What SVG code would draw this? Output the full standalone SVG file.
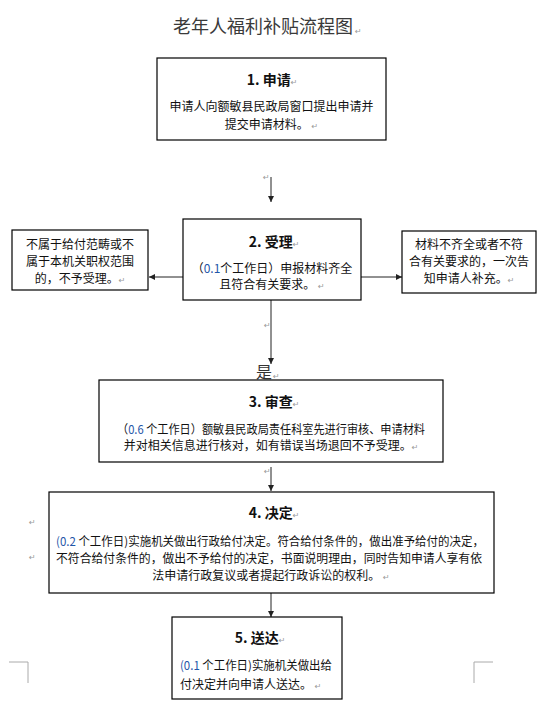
<svg xmlns="http://www.w3.org/2000/svg" width="551" height="708" viewBox="0 0 551 708">
<defs>
<marker id="ah" viewBox="0 0 6 6" refX="6" refY="3" markerWidth="6" markerHeight="6" markerUnits="userSpaceOnUse" orient="auto">
<path d="M0,0 L6,3 L0,6 Z" fill="#222"/>
</marker>
<style>
.box{fill:#fff;stroke:#000;stroke-width:1.2}
.t{font-family:"Noto Sans CJK SC","Liberation Sans",sans-serif;font-size:12px;fill:#111}
.h{font-family:"Noto Sans CJK SC","Liberation Sans",sans-serif;font-size:14px;font-weight:bold;fill:#111}
.m{font-family:"DejaVu Sans",sans-serif;font-size:8px;fill:#999;font-weight:normal}
.n{fill:#1f56a8}
.c{text-anchor:middle}
.ln{stroke:#222;stroke-width:1;fill:none}
.crn{stroke:#aaa;stroke-width:1;fill:none}
</style>
</defs>
<rect width="551" height="708" fill="#fff"/>
<g id="title">
<text x="263" y="33" class="t c" style="font-size:18px;fill:#3a3a3a">老年人福利补贴流程图</text>
<text x="355" y="34" class="m">↵</text>
</g>
<g id="connectors">
<line class="ln" x1="271" y1="177" x2="271" y2="202" marker-end="url(#ah)"/>
<line class="ln" x1="183" y1="277" x2="149" y2="277" marker-end="url(#ah)"/>
<line class="ln" x1="361" y1="277" x2="402" y2="277" marker-end="url(#ah)"/>
<line class="ln" x1="271" y1="300" x2="271" y2="364" marker-end="url(#ah)"/>
<line class="ln" x1="271" y1="467" x2="271" y2="491" marker-end="url(#ah)"/>
<line class="ln" x1="271" y1="593" x2="271" y2="617" marker-end="url(#ah)"/>
<text x="263" y="180" class="m">↵</text>
<text x="264" y="328" class="m">↵</text>
<text x="264" y="474" class="m">↵</text>
</g>
<g id="label-yes">
<text x="264" y="378" class="t c" style="font-size:16px;fill:#333">是</text>
<text x="273" y="379" class="m">↵</text>
</g>
<g id="node1">
<rect class="box" x="157" y="58" width="229" height="82"/>
<text x="272" y="85" class="h c">1. 申请<tspan class="m">↵</tspan></text>
<text x="271.5" y="111" class="t c">申请人向额敏县民政局窗口提出申请并</text>
<text x="271.5" y="129" class="t c">提交申请材料。 <tspan class="m">↵</tspan></text>
</g>
<g id="node2">
<rect class="box" x="183" y="219" width="178" height="81"/>
<text x="274" y="247" class="h c">2. 受理<tspan class="m">↵</tspan></text>
<text x="272" y="273" class="t c">（<tspan class="n">0.1</tspan>个工作日）申报材料齐全</text>
<text x="272" y="289" class="t c">且符合有关要求。 <tspan class="m">↵</tspan></text>
</g>
<g id="node-reject">
<rect class="box" x="12" y="230" width="136" height="60"/>
<text x="80" y="249" class="t c">不属于给付范畴或不</text>
<text x="80" y="266" class="t c">属于本机关职权范围</text>
<text x="80" y="283" class="t c">的，不予受理。<tspan class="m">↵</tspan></text>
</g>
<g id="node-supplement">
<rect class="box" x="402" y="231" width="134" height="62"/>
<text x="469" y="249" class="t c">材料不齐全或者不符</text>
<text x="469" y="266" class="t c">合有关要求的，一次告</text>
<text x="469" y="283" class="t c">知申请人补充。<tspan class="m">↵</tspan></text>
</g>
<g id="node3">
<rect class="box" x="99" y="380" width="344" height="82"/>
<text x="274" y="407" class="h c">3. 审查<tspan class="m">↵</tspan></text>
<text x="271" y="434" class="t c" textLength="308" lengthAdjust="spacingAndGlyphs">（<tspan class="n">0.6</tspan> 个工作日）额敏县民政局责任科室先进行审核、申请材料</text>
<text x="271" y="450" class="t c">并对相关信息进行核对，如有错误当场退回不予受理。<tspan class="m">↵</tspan></text>
</g>
<g id="node4">
<rect class="box" x="49" y="492" width="445" height="101"/>
<text x="274" y="518" class="h c">4. 决定<tspan class="m">↵</tspan></text>
<text x="270" y="546" class="t c" textLength="428" lengthAdjust="spacingAndGlyphs"><tspan class="n">(0.2</tspan> 个工作日)实施机关做出行政给付决定。符合给付条件的，做出准予给付的决定，</text>
<text x="269" y="563" class="t c" textLength="426" lengthAdjust="spacingAndGlyphs">不符合给付条件的，做出不予给付的决定，书面说明理由，同时告知申请人享有依</text>
<text x="271" y="580" class="t c">法申请行政复议或者提起行政诉讼的权利。 <tspan class="m">↵</tspan></text>
<text x="29" y="525" class="m">↵</text>
<text x="29" y="560" class="m">↵</text>
</g>
<g id="node5">
<rect class="box" x="172" y="617" width="170" height="82"/>
<text x="260" y="643" class="h c">5. 送达<tspan class="m">↵</tspan></text>
<text x="180" y="670" class="t" textLength="152" lengthAdjust="spacingAndGlyphs"><tspan class="n">(0.1</tspan> 个工作日)实施机关做出给</text>
<text x="180" y="689" class="t">付决定并向申请人送达。 <tspan class="m">↵</tspan></text>
</g>
<g id="page-corners">
<path class="crn" d="M9,662 H28 V683"/>
<path class="crn" d="M493,662 H474 V683"/>
</g>
</svg>
